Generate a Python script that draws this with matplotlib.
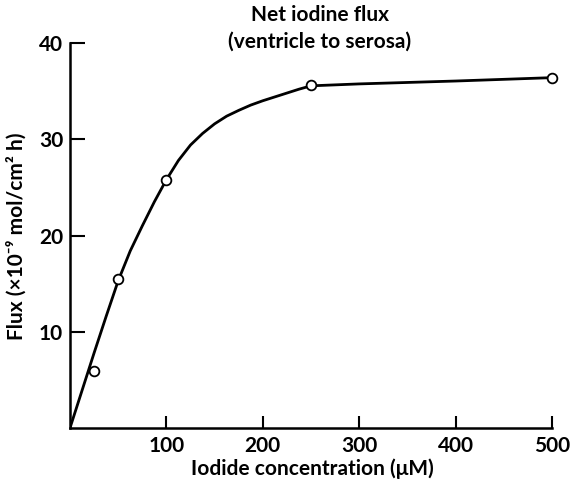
import matplotlib
matplotlib.use("Agg")
import matplotlib.pyplot as plt

plt.rcParams.update({
    "font.family": ["Lato", "DejaVu Sans"],
    "font.weight": "bold",
    "font.size": 15,
})

# ── Data ──────────────────────────────────────────────────────────────────────
conc_pts = [25, 50, 100, 250, 500]            # iodide concentration (µM)
flux_pts = [5.9, 15.5, 25.8, 35.6, 36.4]      # flux (×10⁻⁹ mol/cm² h)

# drawn (fitted) curve, read at intervals along the line
curve_x = [0, 12.5, 25, 37.5, 50, 62.5, 75, 87.5, 100, 112.5, 125, 137.5,
           150, 162.5, 175, 187.5, 200, 212.5, 225, 237.5, 250, 300, 400, 500]
curve_y = [0, 3.9, 7.8, 11.6, 15.3, 18.4, 21.0, 23.5, 25.8, 27.8, 29.4, 30.6,
           31.6, 32.4, 33.0, 33.55, 34.0, 34.4, 34.8, 35.2, 35.55, 35.75,
           36.05, 36.4]

x_ticks = [100, 200, 300, 400, 500]
y_ticks = [10, 20, 30, 40]

# ── Figure ────────────────────────────────────────────────────────────────────
fig = plt.figure(figsize=(5.72, 4.83), dpi=100)
ax = fig.add_axes([70 / 572, 1 - 428 / 483, 482 / 572, 385 / 483])

ax.plot(curve_x, curve_y, color="black", lw=2.0, solid_capstyle="round",
        solid_joinstyle="round", zorder=2)
ax.plot(conc_pts, flux_pts, ls="none", marker="o", ms=7, mfc="white",
        mec="black", mew=1.3, zorder=3, clip_on=False)

ax.set_xlim(0, 500)
ax.set_ylim(0, 40)
ax.set_xticks(x_ticks)
ax.set_yticks(y_ticks)
ax.set_xticklabels([str(t) for t in x_ticks])
ax.set_yticklabels([str(t) for t in y_ticks])
ax.tick_params(axis="x", direction="in", length=9, width=1.5, pad=6,
               labelsize=15)
ax.tick_params(axis="y", direction="in", length=11, width=1.5, pad=5,
               labelsize=15)

for side in ("top", "right"):
    ax.spines[side].set_visible(False)
for side in ("left", "bottom"):
    ax.spines[side].set_linewidth(1.8)

fig.text(320 / 572, 1 - 15 / 483, "Net iodine flux", ha="center",
         va="center", fontsize=15)
fig.text(320 / 572, 1 - 42 / 483, "(ventricle to serosa)", ha="center",
         va="center", fontsize=15)
fig.text(312 / 572, 1 - 469 / 483, "Iodide concentration (\u03bcM)",
         ha="center", va="center", fontsize=15)
fig.text(16 / 572, 1 - 236 / 483, "Flux (\u00d710\u207b\u2079 mol/cm\u00b2 h)",
         ha="center", va="center", rotation=90, fontsize=15)

fig.savefig("out.png", dpi=100)
